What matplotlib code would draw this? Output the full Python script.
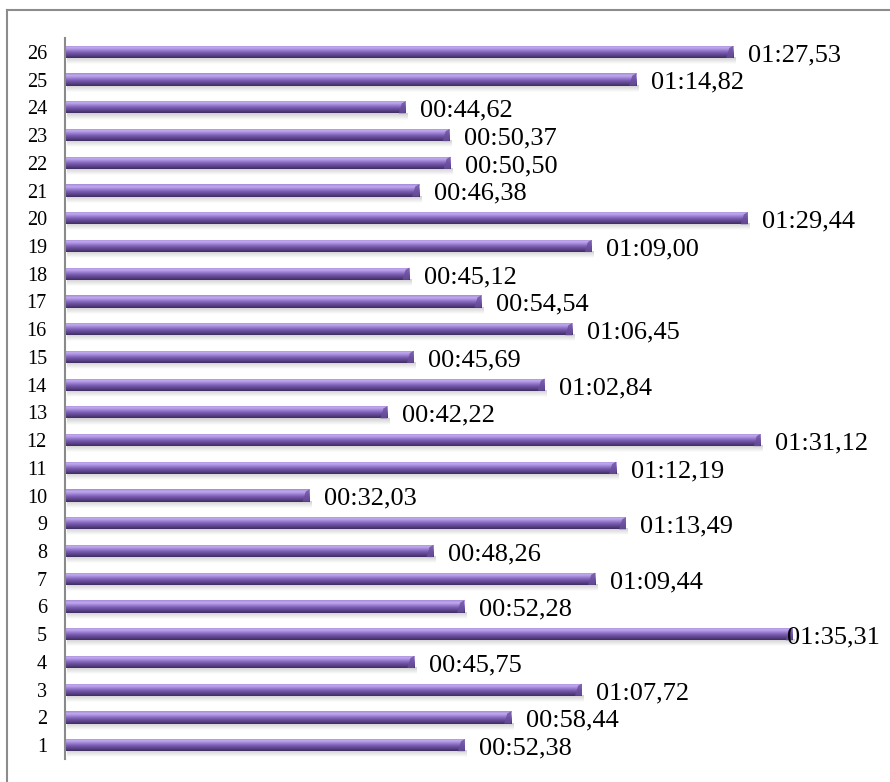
#!/usr/bin/env python3
"""Lap times per run, horizontal bars with a shaded purple finish."""
import matplotlib
matplotlib.use('Agg')
import matplotlib.pyplot as plt
import numpy as np
from matplotlib.colors import LinearSegmentedColormap
from matplotlib.patches import Rectangle
from matplotlib.lines import Line2D

plt.rcParams.update({
    'font.family': 'serif',
    'font.serif': ['Liberation Serif', 'DejaVu Serif'],
})

runs = [str(i) for i in range(1, 27)]
times = ['00:52,38', '00:58,44', '01:07,72', '00:45,75', '01:35,31',
         '00:52,28', '01:09,44', '00:48,26', '01:13,49', '00:32,03',
         '01:12,19', '01:31,12', '00:42,22', '01:02,84', '00:45,69',
         '01:06,45', '00:54,54', '00:45,12', '01:09,00', '01:29,44',
         '00:46,38', '00:50,50', '00:50,37', '00:44,62', '01:14,82',
         '01:27,53']


def to_seconds(t):
    mm, rest = t.split(':')
    ss, cc = rest.split(',')
    return int(mm) * 60 + int(ss) + int(cc) / 100.0


seconds = [to_seconds(t) for t in times]

fig = plt.figure(figsize=(8.9, 7.82), dpi=100)
ax = fig.add_axes([65 / 890, 23 / 782, 820 / 890, 721 / 782])

bar_cmap = LinearSegmentedColormap.from_list(
    'bar', ['#3f2d60', '#5a4388', '#7658ae', '#9a7fd0', '#c2aaf0', '#a58ad8'])
shadow_cmap = LinearSegmentedColormap.from_list('shadow', ['#ffffff', '#cfcfcf'])
grad = np.linspace(0, 1, 64).reshape(-1, 1)

h = 0.44
sh = 0.22
for k, v in enumerate(seconds):
    y = k + 1
    # soft drop shadow under the bar
    ax.imshow(grad, extent=[0.3, v + 0.3, y - h / 2 - sh, y - h / 2],
              cmap=shadow_cmap, aspect='auto', origin='lower', zorder=1,
              interpolation='bilinear')
    clip = Rectangle((0, y - h / 2), v, h, facecolor='none', edgecolor='none')
    ax.add_patch(clip)
    im = ax.imshow(grad, extent=[0, v, y - h / 2, y + h / 2], cmap=bar_cmap,
                   aspect='auto', origin='lower', zorder=2,
                   interpolation='bilinear')
    im.set_clip_path(clip)
    # bevelled end cap
    cap = plt.Polygon([(v - 0.9, y - h / 2), (v, y - h / 2), (v, y + h / 2),
                       (v - 0.5, y + h / 2 - 0.08)],
                      closed=True, facecolor='#6a4f9c', edgecolor='none',
                      zorder=3, alpha=0.8)
    ax.add_patch(cap)

    # the longest label is pulled back so it stays inside the frame
    label_x = min(v + 1.9, 94.6)
    ax.text(label_x, y - 0.12, times[k], ha='left', va='center',
            fontsize=19, color='black', zorder=4)

ax.set_xlim(0, 820 / 7.633)
ax.set_ylim(0.5, 26.5)
ax.set_yticks(range(1, 27))
ax.set_yticklabels(runs, fontsize=14.5)
ax.set_xticks([])
ax.tick_params(axis='y', length=0, pad=13)
for side in ['top', 'right', 'bottom']:
    ax.spines[side].set_visible(False)
ax.spines['left'].set_color('#8a8a8a')
ax.spines['left'].set_linewidth(1.5)

# chart area frame
fig.add_artist(Line2D([7 / 890, 1.0], [1 - 10 / 782, 1 - 10 / 782],
                      transform=fig.transFigure, color='#8c8c8c', linewidth=1.5))
fig.add_artist(Line2D([7 / 890, 7 / 890], [0.0, 1 - 10 / 782],
                      transform=fig.transFigure, color='#8c8c8c', linewidth=1.5))

fig.savefig('out.png', dpi=100)
plt.close(fig)
